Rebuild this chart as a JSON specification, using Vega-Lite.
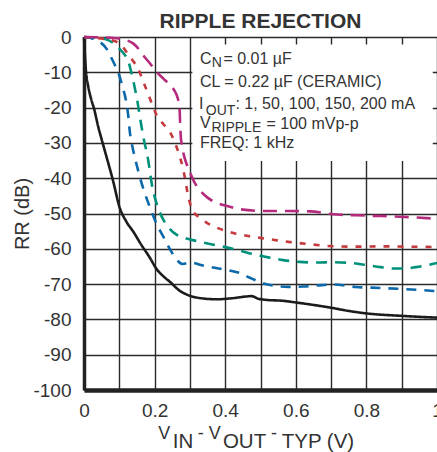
{
  "$schema": "https://vega.github.io/schema/vega-lite/v6.json",
  "width": 353,
  "height": 353,
  "autosize": {"type": "none"},
  "padding": {"left": 84, "top": 37, "right": 0, "bottom": 62},
  "background": "white",
  "config": {
    "font": "Liberation Sans",
    "view": {"stroke": null},
    "axis": {"labelFont": "Liberation Sans", "titleFont": "Liberation Sans"}
  },
  "datasets": {
    "curves": [
      {"I": "1 mA", "v": 0, "rr": 0},
      {"I": "1 mA", "v": 0.002, "rr": -4},
      {"I": "1 mA", "v": 0.0057, "rr": -9.9},
      {"I": "1 mA", "v": 0.012, "rr": -14},
      {"I": "1 mA", "v": 0.02, "rr": -17.5},
      {"I": "1 mA", "v": 0.029, "rr": -20.5},
      {"I": "1 mA", "v": 0.04, "rr": -25.3},
      {"I": "1 mA", "v": 0.05, "rr": -29},
      {"I": "1 mA", "v": 0.06, "rr": -32.6},
      {"I": "1 mA", "v": 0.083, "rr": -41},
      {"I": "1 mA", "v": 0.1, "rr": -48},
      {"I": "1 mA", "v": 0.12, "rr": -52.3},
      {"I": "1 mA", "v": 0.14, "rr": -55.2},
      {"I": "1 mA", "v": 0.16, "rr": -58.5},
      {"I": "1 mA", "v": 0.187, "rr": -62.6},
      {"I": "1 mA", "v": 0.206, "rr": -65.8},
      {"I": "1 mA", "v": 0.225, "rr": -67.8},
      {"I": "1 mA", "v": 0.244, "rr": -69.4},
      {"I": "1 mA", "v": 0.27, "rr": -71.8},
      {"I": "1 mA", "v": 0.3, "rr": -73.3},
      {"I": "1 mA", "v": 0.34, "rr": -74.1},
      {"I": "1 mA", "v": 0.376, "rr": -74.3},
      {"I": "1 mA", "v": 0.42, "rr": -74},
      {"I": "1 mA", "v": 0.461, "rr": -73.5},
      {"I": "1 mA", "v": 0.475, "rr": -73.4},
      {"I": "1 mA", "v": 0.492, "rr": -74.1},
      {"I": "1 mA", "v": 0.52, "rr": -74.5},
      {"I": "1 mA", "v": 0.56, "rr": -74.7},
      {"I": "1 mA", "v": 0.6, "rr": -75.2},
      {"I": "1 mA", "v": 0.65, "rr": -75.9},
      {"I": "1 mA", "v": 0.7, "rr": -76.7},
      {"I": "1 mA", "v": 0.75, "rr": -77.6},
      {"I": "1 mA", "v": 0.8, "rr": -78.3},
      {"I": "1 mA", "v": 0.9, "rr": -79},
      {"I": "1 mA", "v": 1.0, "rr": -79.5},

      {"I": "50 mA", "v": 0, "rr": 0},
      {"I": "50 mA", "v": 0.02, "rr": -0.3},
      {"I": "50 mA", "v": 0.045, "rr": -1.4},
      {"I": "50 mA", "v": 0.065, "rr": -3.5},
      {"I": "50 mA", "v": 0.078, "rr": -6},
      {"I": "50 mA", "v": 0.09, "rr": -8.5},
      {"I": "50 mA", "v": 0.1, "rr": -10.9},
      {"I": "50 mA", "v": 0.11, "rr": -14.5},
      {"I": "50 mA", "v": 0.118, "rr": -17.5},
      {"I": "50 mA", "v": 0.125, "rr": -22},
      {"I": "50 mA", "v": 0.13, "rr": -27},
      {"I": "50 mA", "v": 0.137, "rr": -31},
      {"I": "50 mA", "v": 0.145, "rr": -34.5},
      {"I": "50 mA", "v": 0.155, "rr": -38.5},
      {"I": "50 mA", "v": 0.168, "rr": -43},
      {"I": "50 mA", "v": 0.187, "rr": -48.3},
      {"I": "50 mA", "v": 0.205, "rr": -52.8},
      {"I": "50 mA", "v": 0.225, "rr": -56.6},
      {"I": "50 mA", "v": 0.243, "rr": -60},
      {"I": "50 mA", "v": 0.26, "rr": -62.8},
      {"I": "50 mA", "v": 0.28, "rr": -64.3},
      {"I": "50 mA", "v": 0.3, "rr": -63.9},
      {"I": "50 mA", "v": 0.34, "rr": -64.8},
      {"I": "50 mA", "v": 0.4, "rr": -65.9},
      {"I": "50 mA", "v": 0.44, "rr": -66.8},
      {"I": "50 mA", "v": 0.47, "rr": -68.2},
      {"I": "50 mA", "v": 0.52, "rr": -70.1},
      {"I": "50 mA", "v": 0.58, "rr": -70.8},
      {"I": "50 mA", "v": 0.62, "rr": -70.7},
      {"I": "50 mA", "v": 0.66, "rr": -70.4},
      {"I": "50 mA", "v": 0.706, "rr": -70.1},
      {"I": "50 mA", "v": 0.77, "rr": -70.8},
      {"I": "50 mA", "v": 0.84, "rr": -71.1},
      {"I": "50 mA", "v": 0.905, "rr": -71.4},
      {"I": "50 mA", "v": 1.0, "rr": -72},

      {"I": "100 mA", "v": 0, "rr": 0},
      {"I": "100 mA", "v": 0.03, "rr": -0.1},
      {"I": "100 mA", "v": 0.055, "rr": -0.4},
      {"I": "100 mA", "v": 0.08, "rr": -1.5},
      {"I": "100 mA", "v": 0.1, "rr": -3.3},
      {"I": "100 mA", "v": 0.115, "rr": -5},
      {"I": "100 mA", "v": 0.126, "rr": -7},
      {"I": "100 mA", "v": 0.134, "rr": -10},
      {"I": "100 mA", "v": 0.14, "rr": -12.5},
      {"I": "100 mA", "v": 0.145, "rr": -15},
      {"I": "100 mA", "v": 0.15, "rr": -17.5},
      {"I": "100 mA", "v": 0.155, "rr": -20.5},
      {"I": "100 mA", "v": 0.159, "rr": -23},
      {"I": "100 mA", "v": 0.164, "rr": -26},
      {"I": "100 mA", "v": 0.168, "rr": -28.3},
      {"I": "100 mA", "v": 0.175, "rr": -31.5},
      {"I": "100 mA", "v": 0.182, "rr": -35},
      {"I": "100 mA", "v": 0.188, "rr": -39},
      {"I": "100 mA", "v": 0.194, "rr": -42.8},
      {"I": "100 mA", "v": 0.201, "rr": -45.6},
      {"I": "100 mA", "v": 0.212, "rr": -49},
      {"I": "100 mA", "v": 0.225, "rr": -51.8},
      {"I": "100 mA", "v": 0.24, "rr": -54},
      {"I": "100 mA", "v": 0.262, "rr": -56},
      {"I": "100 mA", "v": 0.29, "rr": -57.1},
      {"I": "100 mA", "v": 0.319, "rr": -57.8},
      {"I": "100 mA", "v": 0.36, "rr": -58.7},
      {"I": "100 mA", "v": 0.404, "rr": -59.6},
      {"I": "100 mA", "v": 0.44, "rr": -60.5},
      {"I": "100 mA", "v": 0.47, "rr": -61.3},
      {"I": "100 mA", "v": 0.51, "rr": -62.2},
      {"I": "100 mA", "v": 0.564, "rr": -63.2},
      {"I": "100 mA", "v": 0.61, "rr": -63.7},
      {"I": "100 mA", "v": 0.659, "rr": -63.9},
      {"I": "100 mA", "v": 0.706, "rr": -63.8},
      {"I": "100 mA", "v": 0.754, "rr": -64},
      {"I": "100 mA", "v": 0.8, "rr": -64.6},
      {"I": "100 mA", "v": 0.84, "rr": -65.2},
      {"I": "100 mA", "v": 0.88, "rr": -65.6},
      {"I": "100 mA", "v": 0.905, "rr": -65.6},
      {"I": "100 mA", "v": 0.94, "rr": -65.2},
      {"I": "100 mA", "v": 0.97, "rr": -64.7},
      {"I": "100 mA", "v": 1.0, "rr": -64},

      {"I": "150 mA", "v": 0, "rr": 0},
      {"I": "150 mA", "v": 0.026, "rr": -0.2},
      {"I": "150 mA", "v": 0.06, "rr": -0.6},
      {"I": "150 mA", "v": 0.093, "rr": -1.4},
      {"I": "150 mA", "v": 0.11, "rr": -2.8},
      {"I": "150 mA", "v": 0.12, "rr": -4.2},
      {"I": "150 mA", "v": 0.137, "rr": -6.5},
      {"I": "150 mA", "v": 0.153, "rr": -8.9},
      {"I": "150 mA", "v": 0.163, "rr": -11.3},
      {"I": "150 mA", "v": 0.172, "rr": -13.7},
      {"I": "150 mA", "v": 0.18, "rr": -15.6},
      {"I": "150 mA", "v": 0.187, "rr": -17.5},
      {"I": "150 mA", "v": 0.196, "rr": -19.8},
      {"I": "150 mA", "v": 0.206, "rr": -22.2},
      {"I": "150 mA", "v": 0.225, "rr": -24.7},
      {"I": "150 mA", "v": 0.244, "rr": -27},
      {"I": "150 mA", "v": 0.258, "rr": -30},
      {"I": "150 mA", "v": 0.27, "rr": -33.5},
      {"I": "150 mA", "v": 0.28, "rr": -37},
      {"I": "150 mA", "v": 0.287, "rr": -40.5},
      {"I": "150 mA", "v": 0.293, "rr": -44},
      {"I": "150 mA", "v": 0.3, "rr": -47},
      {"I": "150 mA", "v": 0.31, "rr": -49.5},
      {"I": "150 mA", "v": 0.33, "rr": -51.3},
      {"I": "150 mA", "v": 0.347, "rr": -52.6},
      {"I": "150 mA", "v": 0.376, "rr": -54},
      {"I": "150 mA", "v": 0.423, "rr": -55.5},
      {"I": "150 mA", "v": 0.46, "rr": -56.3},
      {"I": "150 mA", "v": 0.499, "rr": -56.9},
      {"I": "150 mA", "v": 0.54, "rr": -57.5},
      {"I": "150 mA", "v": 0.584, "rr": -58.1},
      {"I": "150 mA", "v": 0.63, "rr": -58.6},
      {"I": "150 mA", "v": 0.678, "rr": -59.1},
      {"I": "150 mA", "v": 0.754, "rr": -59.4},
      {"I": "150 mA", "v": 0.848, "rr": -59.3},
      {"I": "150 mA", "v": 0.92, "rr": -59.4},
      {"I": "150 mA", "v": 1.0, "rr": -59.5},

      {"I": "200 mA", "v": 0, "rr": 0},
      {"I": "200 mA", "v": 0.05, "rr": -0.1},
      {"I": "200 mA", "v": 0.1, "rr": -0.4},
      {"I": "200 mA", "v": 0.12, "rr": -0.9},
      {"I": "200 mA", "v": 0.139, "rr": -1.8},
      {"I": "200 mA", "v": 0.155, "rr": -3.4},
      {"I": "200 mA", "v": 0.168, "rr": -5.2},
      {"I": "200 mA", "v": 0.187, "rr": -7.5},
      {"I": "200 mA", "v": 0.206, "rr": -9.9},
      {"I": "200 mA", "v": 0.225, "rr": -11.8},
      {"I": "200 mA", "v": 0.244, "rr": -13.7},
      {"I": "200 mA", "v": 0.258, "rr": -15.5},
      {"I": "200 mA", "v": 0.266, "rr": -17.5},
      {"I": "200 mA", "v": 0.27, "rr": -19.5},
      {"I": "200 mA", "v": 0.2715, "rr": -22},
      {"I": "200 mA", "v": 0.2725, "rr": -25},
      {"I": "200 mA", "v": 0.274, "rr": -28},
      {"I": "200 mA", "v": 0.277, "rr": -30.5},
      {"I": "200 mA", "v": 0.283, "rr": -33.5},
      {"I": "200 mA", "v": 0.29, "rr": -35.8},
      {"I": "200 mA", "v": 0.3, "rr": -38.3},
      {"I": "200 mA", "v": 0.313, "rr": -41.2},
      {"I": "200 mA", "v": 0.328, "rr": -43.4},
      {"I": "200 mA", "v": 0.35, "rr": -45.5},
      {"I": "200 mA", "v": 0.376, "rr": -47},
      {"I": "200 mA", "v": 0.41, "rr": -48},
      {"I": "200 mA", "v": 0.442, "rr": -48.8},
      {"I": "200 mA", "v": 0.517, "rr": -49.3},
      {"I": "200 mA", "v": 0.58, "rr": -49.3},
      {"I": "200 mA", "v": 0.64, "rr": -49.4},
      {"I": "200 mA", "v": 0.706, "rr": -50.2},
      {"I": "200 mA", "v": 0.8, "rr": -50.6},
      {"I": "200 mA", "v": 0.895, "rr": -50.9},
      {"I": "200 mA", "v": 1.0, "rr": -51.5}
    ],
    "notes": [
      {"t": "RIPPLE REJECTION", "v": 0.5, "rr": 2.6, "role": "title"},
      {"t": "C", "v": 0.3286, "rr": -7.6, "role": "note"},
      {"t": "N", "v": 0.3620, "rr": -8.6, "role": "sub"},
      {"t": "= 0.01 µF", "v": 0.3950, "rr": -7.6, "role": "note"},
      {"t": "CL = 0.22 µF (CERAMIC)", "v": 0.3286, "rr": -14.2, "role": "note"},
      {"t": "I", "v": 0.3258, "rr": -20.3, "role": "note"},
      {"t": "OUT", "v": 0.3450, "rr": -22.2, "role": "sub"},
      {"t": ": 1, 50, 100, 150, 200 mA", "v": 0.4290, "rr": -20.5, "role": "note"},
      {"t": "V", "v": 0.3286, "rr": -25.8, "role": "note"},
      {"t": "RIPPLE", "v": 0.3610, "rr": -26.9, "role": "sub"},
      {"t": "= 100 mVp-p", "v": 0.5170, "rr": -26.2, "role": "note"},
      {"t": "FREQ: 1 kHz", "v": 0.3286, "rr": -31.4, "role": "note"},
      {"t": "V", "v": 0.2105, "rr": -114.0, "role": "xhi"},
      {"t": "IN", "v": 0.2513, "rr": -116.3, "role": "xlo"},
      {"t": "- V", "v": 0.322, "rr": -114.0, "role": "xhi"},
      {"t": "OUT", "v": 0.3935, "rr": -116.3, "role": "xlo"},
      {"t": "-", "v": 0.530, "rr": -114.0, "role": "xhi"},
      {"t": "TYP (V)", "v": 0.560, "rr": -116.3, "role": "xlo"}
    ]
  },
  "encoding": {
    "x": {
      "field": "v",
      "type": "quantitative",
      "scale": {"domain": [0, 1], "nice": false, "zero": false},
      "axis": {
        "title": null,
        "values": [0, 0.1, 0.2, 0.3, 0.4, 0.5, 0.6, 0.7, 0.8, 0.9, 1.0],
        "labelExpr": "round(datum.value*10)%2==0 ? format(datum.value,'~g') : ''",
        "labelFontSize": 19,
        "labelColor": "#333333",
        "labelPadding": 11,
        "labelFlush": false,
        "labelOverlap": false,
        "labelBound": false,
        "ticks": false,
        "grid": true,
        "gridColor": "#2a2a2a",
        "gridWidth": 1.4,
        "gridOpacity": 1,
        "domain": true,
        "domainColor": "#222222",
        "domainWidth": 4.5
      }
    },
    "y": {
      "field": "rr",
      "type": "quantitative",
      "scale": {"domain": [-100, 0], "nice": false, "zero": false},
      "axis": {
        "title": "RR (dB)",
        "titleFontSize": 20,
        "titleFontWeight": "normal",
        "titleColor": "#333333",
        "titlePadding": 0,
        "values": [0, -10, -20, -30, -40, -50, -60, -70, -80, -90, -100],
        "labelExpr": "'' + datum.value",
        "labelFontSize": 19,
        "labelColor": "#333333",
        "labelPadding": 13,
        "labelFlush": false,
        "labelOverlap": false,
        "labelBound": false,
        "ticks": false,
        "grid": true,
        "gridColor": "#2a2a2a",
        "gridWidth": 1.4,
        "gridOpacity": 1,
        "domain": true,
        "domainColor": "#222222",
        "domainWidth": 3.5
      }
    }
  },
  "layer": [
    {
      "data": {"values": [{"v": 0.307, "v2": 0.988, "rr": -2.1, "rr2": -35.1}]},
      "mark": {"type": "rect", "fill": "white", "stroke": null},
      "encoding": {
        "x2": {"field": "v2"},
        "y2": {"field": "rr2"}
      }
    },
    {
      "data": {"name": "curves"},
      "mark": {"type": "line", "interpolate": "monotone", "strokeWidth": 2.6},
      "encoding": {
        "color": {
          "field": "I",
          "type": "nominal",
          "scale": {
            "domain": ["1 mA", "50 mA", "100 mA", "150 mA", "200 mA"],
            "range": ["#1c1c1c", "#0b69ab", "#00917b", "#c43a3d", "#b62a7d"]
          },
          "legend": null
        },
        "strokeDash": {
          "field": "I",
          "type": "nominal",
          "scale": {
            "domain": ["1 mA", "50 mA", "100 mA", "150 mA", "200 mA"],
            "range": [[1, 0], [10, 8], [11, 8], [6, 8], [14, 8]]
          },
          "legend": null
        }
      }
    },
    {
      "data": {"name": "notes"},
      "transform": [{"filter": "datum.role == 'title'"}],
      "mark": {"type": "text", "align": "center", "baseline": "alphabetic", "font": "Liberation Sans", "fontSize": 21, "fontWeight": "bold", "color": "#333333"},
      "encoding": {"text": {"field": "t", "type": "nominal"}}
    },
    {
      "data": {"name": "notes"},
      "transform": [{"filter": "datum.role == 'note'"}],
      "mark": {"type": "text", "align": "left", "baseline": "alphabetic", "font": "Liberation Sans", "fontSize": 16, "color": "#333333"},
      "encoding": {"text": {"field": "t", "type": "nominal"}}
    },
    {
      "data": {"name": "notes"},
      "transform": [{"filter": "datum.role == 'sub'"}],
      "mark": {"type": "text", "align": "left", "baseline": "alphabetic", "font": "Liberation Sans", "fontSize": 14, "color": "#333333"},
      "encoding": {"text": {"field": "t", "type": "nominal"}}
    },
    {
      "data": {"name": "notes"},
      "transform": [{"filter": "datum.role == 'xhi'"}],
      "mark": {"type": "text", "align": "left", "baseline": "alphabetic", "font": "Liberation Sans", "fontSize": 18, "color": "#333333"},
      "encoding": {"text": {"field": "t", "type": "nominal"}}
    },
    {
      "data": {"name": "notes"},
      "transform": [{"filter": "datum.role == 'xlo'"}],
      "mark": {"type": "text", "align": "left", "baseline": "alphabetic", "font": "Liberation Sans", "fontSize": 20.5, "color": "#333333"},
      "encoding": {"text": {"field": "t", "type": "nominal"}}
    }
  ]
}
